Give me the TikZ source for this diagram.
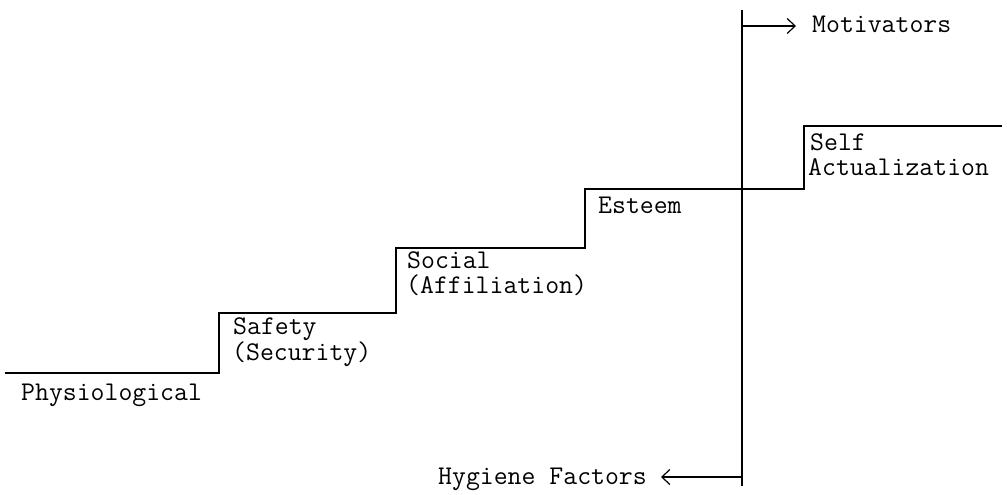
\documentclass[tikz,border=0pt]{standalone}
\usetikzlibrary{arrows.meta}
\begin{document}
\begin{tikzpicture}[x=1pt,y=-1pt,
  lbl/.style={anchor=base west,inner sep=0pt,font=\ttfamily\fontsize{27}{30}\selectfont},
  ln/.style={line width=1.2pt},
  arr/.style={ln,-{Straight Barb[length=8pt,width=15pt,line width=1.2pt]}}]
\useasboundingbox (0,0) rectangle (1007,495);
% staircase
\draw[ln] (5,373) coordinate (s0) -- (219,373) -- (219,313) -- (396,313) -- (396,248)
  -- (585,248) -- (585,189) -- (804,189) -- (804,126) -- (1002,126) coordinate (s1);
% divider
\draw[ln] (742,10) coordinate (v0) -- (742,486) coordinate (v1);
% labels
\node[lbl] (phys) at (21,400) {Physiological};
\node[lbl] (safe1) at (233,334) {Safety};
\node[lbl] (safe2) at (232,360) {(Security)};
\node[lbl] (soc1) at (407,268) {Social};
\node[lbl] (soc2) at (406,293) {(Affiliation)};
\node[lbl] (est) at (598,213) {Esteem};
\node[lbl] (self1) at (810,150) {Self};
\node[lbl] (self2) at (808,175) {Actualization};
\node[lbl] (mot) at (812,33) {Motivators};
\node[lbl] (hyg) at (438,484) {Hygiene Factors};
% arrows
\coordinate (m0) at (742,26);
\coordinate (h0) at (742,477);
\draw[arr] (m0) -- ([xshift=-16pt]mot.west |- m0);
\draw[arr] (h0) -- ([xshift=14pt]hyg.east |- h0);
\end{tikzpicture}
\end{document}
